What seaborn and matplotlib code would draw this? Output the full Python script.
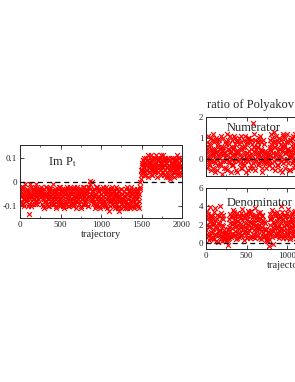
import numpy as np
import pandas as pd
import matplotlib.pyplot as plt
import seaborn as sns

# Im P_t, first pass: every 8 trajectories starting at 0
im_p = [
    -.04, -.08, -.02, -.06, -.09, -.03, -.05, -.07, -.01, -.06,
    -.08, -.04, -.06, -.10, -.135, -.05, -.07, -.02, -.06, -.09,
    -.04, -.07, -.03, -.08, -.05, -.01, -.06, -.09, -.04, -.03,
    -.04, -.03, -.05, -.02, -.07, -.10, -.05, -.03, -.08, -.06,
    -.02, -.09, -.05, -.07, -.04, -.10, -.06, -.03, -.08, -.05,
    -.07, -.01, -.06, -.09, -.04, -.07, -.11, -.05, -.03, -.08,
    -.06, -.02, -.09, -.05, -.07, -.04, -.10, -.06, -.03, -.08,
    -.05, -.09, -.02, -.07, -.04, -.06, -.10, -.03, -.08, -.05,
    -.07, -.04, -.09, -.06, -.02, -.08, -.05, -.11, -.04, -.07,
    -.06, -.03, -.08, -.05, -.10, -.04, -.07, -.02, -.06, -.09,
    -.05, -.08, -.03, -.07, -.04, -.10, -.06, -.02, .005, -.05,
    -.08, .0, -.04, -.07, -.03, -.09, -.06, -.05, -.10, -.02,
    -.06, -.08, -.04, -.07, -.11, -.05, -.03, -.09, -.06, -.04,
    -.08, -.05, -.02, -.10, -.07, -.04, -.06, -.12, -.05, -.08,
    -.03, -.07, -.09, -.04, -.06, -.10, -.05, -.08, -.02, -.07,
    -.05, -.11, -.04, -.12, -.06, -.08, -.03, -.09, -.05, -.07,
    -.10, -.04, -.06, -.08, -.03, -.11, -.05, -.07, -.09, -.04,
    -.06, -.10, -.02, -.08, -.05, -.07, -.11, -.04, -.06, -.09,
    -.03, -.07, -.10, -.05, -.08, -.02, .01, .05, .07, .04,
    .09, .06, .03, .08, .10, .05, .07, .02, .09, .06,
    .04, .08, .11, .06, .03, .09, .07, .05, .10, .04,
    .08, .06, .02, .09, .07, .10, .05, .03, .08, .06,
    .11, .04, .07, .09, .05, .02, .08, .06, .10, .03,
    .07, .09, .01, .05, .08, .06, .10, .04, .02, .07,
    .09, .05, .11, .06, .03, .08, .10, .04, .07, .06,
]
# Im P_t, second pass: every 8 trajectories starting at 4
im_p_b = [
    -.06, -.03, -.09, -.05, -.02, -.07, -.10, -.04, -.06, -.08,
    -.03, -.07, -.05, -.09, -.04, -.01, -.06, -.10, -.05, -.03,
    -.07, -.05, -.09, -.02, -.06, -.08, -.04, -.07, -.05, -.04,
    -.03, -.05, -.04, -.06, -.09, -.04, -.07, -.11, -.05, -.02,
    -.08, -.06, -.03, -.10, -.05, -.07, -.02, -.09, -.06, -.04,
    -.09, -.05, -.08, -.03, -.07, -.10, -.04, -.06, -.09, -.02,
    -.07, -.10, -.04, -.08, -.03, -.06, -.09, -.05, -.11, -.04,
    -.08, -.03, -.06, -.10, -.05, -.08, -.02, -.07, -.04, -.09,
    -.05, -.10, -.03, -.07, -.09, -.04, -.06, -.02, -.08, -.05,
    -.09, -.04, -.06, -.11, -.03, -.07, -.05, -.09, -.04, -.02,
    -.07, -.04, -.09, -.05, -.10, -.02, -.06, -.03, -.01, -.07,
    -.04, -.06, -.09, -.03, -.08, -.05, -.11, -.02, -.07, -.09,
    -.04, -.10, -.06, -.03, -.08, -.05, -.09, -.02, -.07, -.10,
    -.05, -.09, -.04, -.07, -.11, -.03, -.08, -.06, -.10, -.04,
    -.08, -.05, -.02, -.09, -.07, -.04, -.11, -.06, -.09, -.03,
    -.08, -.06, -.10, -.04, -.07, -.03, -.11, -.05, -.08, -.10,
    -.06, -.08, -.11, -.05, -.09, -.02, -.07, -.10, -.04, -.08,
    -.11, -.05, -.08, -.04, -.10, -.06, -.03, -.09, -.07, -.05,
    -.09, -.04, -.06, -.11, -.03, .00, .03, .08, .05, .09,
    .06, .10, .04, .07, .03, .09, .05, .11, .06, .08,
    .07, .05, .09, .03, .10, .06, .04, .08, .06, .11,
    .05, .10, .07, .04, .09, .06, .08, .11, .04, .09,
    .06, .09, .03, .07, .10, .08, .04, .06, .02, .09,
    .05, .06, .08, .10, .03, .07, .04, .09, .06, .08,
    .04, .07, .09, .05, .10, .08, .03, .06, .09, .05,
]

# ratio of Polyakov loops (visible part of the run), same two passes
numerator = [
    .3, -.4, .8, .1, -.2, .6, .0, 1.0, -.5, .4,
    .2, 1.2, -.1, .5, -.6, .3, .9, .0, -.3, .7,
    .1, .5, -.2, 1.1, .4, -.7, .2, .6, -.1, .8,
    .3, -.4, .0, 1.2, .5, -.2, .7, .1, -.6, .4,
    .9, .2, -.3, .6, .0, 1.0, -.5, .3, .8, -.1,
    .4, .7, -.2, .2, 1.1, -.4, .5, .0, .9, -.3,
    .6, .1, -.6, .8, .3, -.1, 1.0, .2, -.4, .5,
    .0, .7, 1.7, -.2, .4, .9, -.5, .3, .1, .6,
    -.3, .8, .2, 1.1, -.1, .5, -.6, .4, .0, .7,
    -.2, .3, .0, -.4, .1, -.1, .2, -.3, .6, .9,
    1.2, .4, -.2, .8, .1, 1.3, -.5, .6, .3, .0,
    .9, -.3, .5, 1.0, .2, -.1, .7, -.6, .4, 1.1,
    .0, .6, -.4, .8, .3, 1.2, -.2, .5, .1, .9,
    -.5, .4, 1.0, .2, -.1, .7, .0, 1.2, -.3, .5,
    .8, .1, -.4, .6, 1.1, .3, -.2, .9, .0, .4, -.6,
]
numerator_b = [
    .6, .0, .4, 1.1, -.3, .2, .7, -.1, .5, .9,
    -.4, .3, .8, -.2, .1, 1.0, .4, -.5, .6, .2,
    .9, -.3, .3, .6, -.1, .5, 1.0, -.4, .3, .1,
    .7, .2, -.5, .5, .9, -.1, .3, 1.1, .0, .6,
    -.3, .5, 1.1, -.1, .7, .2, .4, -.6, .9, .3,
    .0, 1.0, .5, -.4, .8, .1, -.2, .6, .3, 1.1,
    -.1, .7, .3, .0, 1.0, -.5, .4, .8, .1, -.3,
    .9, .2, -.4, .6, 1.2, .0, .5, -.1, .8, .3,
    .6, -.2, 1.0, .1, .4, .8, -.4, .2, .9, -.1,
    .4, .0, -.2, .3, -.1, .1, -.3, .0, .5, .2,
    .7, -.4, 1.0, .3, .6, -.1, .8, .2, 1.1, -.3,
    .4, .8, .0, .5, -.5, .9, .1, .6, 1.2, -.2,
    .7, .3, 1.0, -.1, .5, .0, .8, -.5, .4, .2,
    .9, .1, -.2, .6, 1.1, -.4, .5, .3, .8, .0,
    .2, .9, .5, -.3, .3, .7, 1.0, -.1, .6, .2, .8,
]
denominator = [
    2.0, 3.5, 1.0, 2.8, .3, 1.8, 3.9, 1.2, 2.4, .6,
    3.0, 1.5, 2.2, .4, 3.8, 1.7, .9, 2.6, 1.3, .1,
    2.1, 4.0, 1.4, .8, 2.7, .2, 1.9, 3.1, .5, 1.0,
    .6, 1.2, .3, .9, -.2, 1.8, .5, 2.2, 1.0, 3.0,
    1.6, 3.6, .8, 2.5, 1.3, 2.9, .4, 1.9, 3.3, 1.1,
    2.4, .7, 3.0, 1.7, 2.1, 3.7, .9, 1.5, 2.8, .3,
    1.8, 3.2, 1.2, 2.6, .6, 2.0, 3.4, 1.4, 2.3, .8,
    3.5, 1.6, 2.9, 1.0, 2.2, 3.0, .5, 1.7, 2.5, 1.3,
    3.3, .9, 2.0, 1.5, 2.7, .4, 1.8, 3.1, 1.1, 2.3,
    .7, 1.4, .9, .3, .6, 1.2, .2, -.3, 2.0, 3.2,
    1.0, 2.6, 3.6, 1.3, -.1, 2.2, .8, 3.0, 1.7, 2.4,
    3.4, 1.1, 2.0, .5, 2.8, 1.6, 4.0, 1.2, 2.5, .9,
    3.1, 1.9, 2.3, .6, 2.9, 1.4, 3.7, 1.0, 2.1, 1.6,
    .4, 2.6, 1.8, 3.3, 1.2, 2.4, .8, 2.0, 3.5, 1.5,
    2.7, .9, 1.9, 3.0, 1.3, 2.2, .6, 2.8, 1.7, 3.6, 1.1,
]
denominator_b = [
    1.4, 2.6, .8, 3.2, 1.9, .5, 2.3, 3.0, 1.1, 2.7,
    .7, 2.0, 3.4, 1.0, 2.5, .2, 1.6, 3.1, 2.2, .9,
    2.9, 1.3, 3.3, .6, 2.0, 1.1, 2.6, .3, 1.4, .7,
    1.1, .2, .8, 1.5, .4, 2.6, 1.3, 3.2, .7, 2.1,
    2.8, 1.0, 2.2, 3.4, .9, 1.7, 3.0, 2.4, .6, 2.0,
    1.5, 2.9, 1.1, 3.3, .8, 2.5, 1.9, 3.1, 1.2, 2.2,
    2.7, .9, 3.0, 1.6, 3.5, 1.1, 2.4, .6, 3.2, 1.8,
    2.2, 3.1, .7, 2.5, 1.4, 3.8, 2.0, .9, 3.0, 1.6,
    1.9, 2.6, .6, 3.4, 1.3, 2.2, 3.0, .8, 2.5, 1.5,
    2.2, .9, 1.5, .6, .2, .8, 1.1, .4, 1.4, 2.6,
    2.8, 1.4, .7, 2.3, 1.6, 3.3, 2.0, 1.1, 3.1, .9,
    1.8, 2.7, 1.3, 3.0, .8, 2.2, 1.5, 3.4, .6, 2.6,
    1.4, 2.8, .9, 2.0, 3.3, 1.1, 2.4, 1.8, 3.0, .7,
    2.3, 1.2, 3.1, .8, 2.6, 1.9, 3.4, 1.3, 2.1, .5,
    1.6, 3.1, 2.4, .9, 2.7, 1.4, 3.3, 2.0, 1.2, 2.5, 3.7,
]

def two_pass(a, b):
    x = list(range(0, 8 * len(a), 8)) + list(range(4, 8 * len(b) + 4, 8))
    return pd.DataFrame({"trajectory": x, "value": list(a) + list(b)})

df_im = two_pass(im_p, im_p_b)
df_num = two_pass(numerator, numerator_b)
df_den = two_pass(denominator, denominator_b)

sns.set_style("ticks")
plt.rcParams["font.family"] = ["Liberation Serif", "DejaVu Serif"]
plt.rcParams["mathtext.fontset"] = "stix"

fig = plt.figure(figsize=(2.95, 3.82), dpi=100)
W, H = 295.0, 382.0

def box(x0, y0, x1, y1):
    return [x0 / W, 1 - y1 / H, (x1 - x0) / W, (y1 - y0) / H]

ax_im = fig.add_axes(box(20, 145, 182, 218))
ax_num = fig.add_axes(box(206, 117, 368, 176))
ax_den = fig.add_axes(box(206, 188, 368, 249))

def draw(ax, df, ylim, yticks, ylabels):
    sns.scatterplot(data=df, x="trajectory", y="value", ax=ax, marker="x",
                    color="red", s=12, linewidth=0.85, legend=False)
    ax.axhline(0, color="black", ls=(0, (4, 3)), lw=0.9, zorder=3)
    ax.set_xlim(0, 2000)
    ax.set_ylim(*ylim)
    ax.set_xticks([0, 500, 1000, 1500, 2000])
    ax.set_xticklabels(["0", "500", "1000", "1500", "2000"])
    ax.set_xticks([250, 750, 1250, 1750], minor=True)
    ax.set_yticks(yticks)
    ax.set_yticklabels(ylabels)
    ax.tick_params(direction="in", top=True, right=True, labelsize=6.5,
                   length=3, width=0.6, pad=2)
    ax.tick_params(which="minor", direction="in", top=True, length=1.5, width=0.5)
    ax.set_ylabel("")
    ax.set_xlabel("")
    for sp in ax.spines.values():
        sp.set_linewidth(0.7)

draw(ax_im, df_im, (-0.15, 0.153), [-0.1, 0, 0.1], ["-0.1", "0", "0.1"])
ax_im.set_xlabel("trajectory", fontsize=7.5, labelpad=1)
ax_im.text(0.17, 0.72, r"Im P$_{\rm t}$", transform=ax_im.transAxes, fontsize=9)

draw(ax_num, df_num, (-0.8, 2.0), [0, 1, 2], ["0", "1", "2"])
ax_num.tick_params(labelbottom=False)
ax_num.text(0.13, 0.77, "Numerator", transform=ax_num.transAxes, fontsize=9, zorder=5)

draw(ax_den, df_den, (-0.65, 6.0), [0, 2, 4, 6], ["0", "2", "4", "6"])
ax_den.set_xlabel("trajectory", fontsize=7.5, labelpad=1)
ax_den.text(0.13, 0.7, "Denominator", transform=ax_den.transAxes, fontsize=9, zorder=5)

# the reference figure is cropped at its right edge, so these run off the page
fig.text(207 / W, 1 - 108 / H, "ratio of Polyakov loops", fontsize=9)

fig.savefig("out.png", dpi=100)
